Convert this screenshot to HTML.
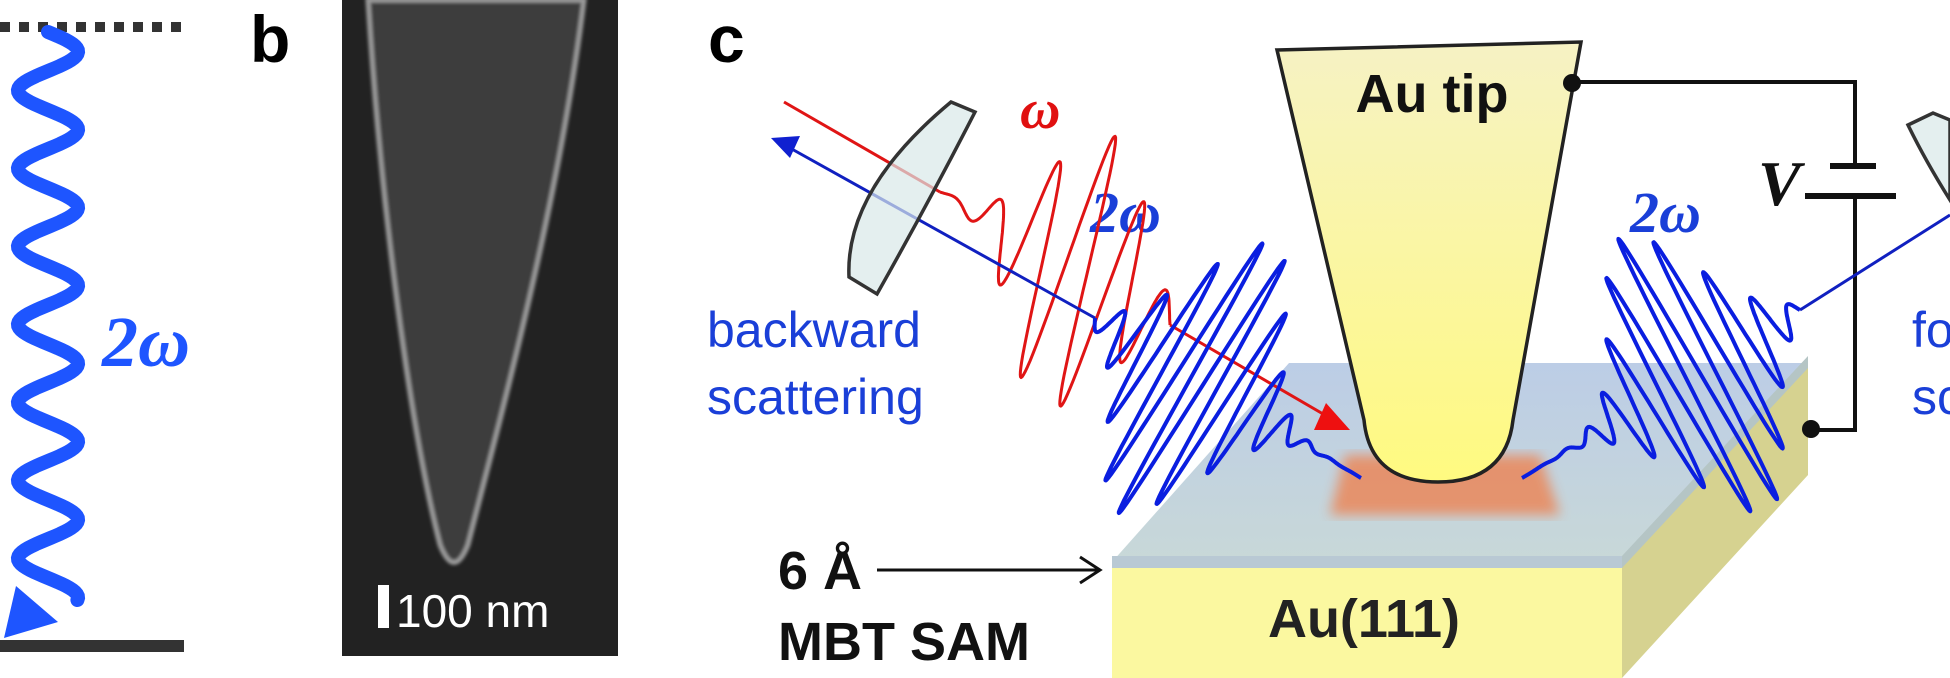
<!DOCTYPE html>
<html><head><meta charset="utf-8"><style>
html,body{margin:0;padding:0;background:#fff;width:1950px;height:678px;overflow:hidden}
svg{display:block}
text{font-family:"Liberation Sans",sans-serif}
text.sf{font-family:"Liberation Serif",serif;font-style:italic;font-weight:bold}
</style></head><body>
<svg id="s" width="1950" height="678" viewBox="0 0 1950 678" xmlns="http://www.w3.org/2000/svg">
<defs>
<linearGradient id="tipg" x1="0" y1="0" x2="0" y2="1"><stop offset="0" stop-color="#f6f2c4"/><stop offset="1" stop-color="#fffa80"/></linearGradient>
<linearGradient id="topg" x1="0" y1="0" x2="0" y2="1"><stop offset="0" stop-color="#bccde6"/><stop offset="1" stop-color="#c8d8d8"/></linearGradient>
<filter id="blur"><feGaussianBlur stdDeviation="6"/></filter>
<filter id="blur2"><feGaussianBlur stdDeviation="1.5"/></filter>
</defs>
<line x1="0" y1="27" x2="184" y2="27" stroke="#333" stroke-width="10" stroke-dasharray="10,9"/>
<rect x="0" y="640" width="184" height="12" fill="#333"/>
<path id="wavya" fill="none" stroke="#1e55ff" stroke-width="14" stroke-linecap="round"/>
<polygon points="4,638 16,586 58,622" fill="#1e55ff"/>
<text class="sf" x="102" y="366" font-size="72" fill="#1e55ff">2ω</text>
<text x="250" y="62" font-weight="bold" font-size="66">b</text>
<rect x="342" y="0" width="276" height="656" fill="#222"/>
<path d="M368,0 C380,200 410,430 440,545 Q454,580 468,545 C500,420 560,200 584,0 Z" fill="#3c3c3c" stroke="#9a9a9a" stroke-width="5" filter="url(#blur2)"/>
<rect x="378" y="585" width="11" height="43" fill="#fff"/>
<text x="396" y="627" font-size="46" fill="#fff">100 nm</text>
<text x="708" y="62" font-weight="bold" font-size="66">c</text>
<polygon points="1622,566 1808,363 1808,475 1622,678" fill="#d6d290"/>
<rect x="1112" y="566" width="510" height="112" fill="#fbf8a0"/>
<polygon points="1289,363 1808,363 1622,562 1112,562" fill="url(#topg)"/>
<polygon points="1112,556 1622,556 1622,568 1112,568" fill="#b9c9d4"/>
<polygon points="1622,556 1808,356 1808,368 1622,568" fill="#b5c5c5"/>
<polygon points="1345,455 1540,455 1560,515 1330,515" fill="#e88c62" filter="url(#blur)" opacity="0.9"/>
<text x="1364" y="637" text-anchor="middle" font-weight="bold" font-size="54" fill="#222">Au(111)</text>
<path d="M1277,50 L1581,42 L1513,420 Q1506,482 1438,482 Q1370,482 1364,420 Z" fill="url(#tipg)" stroke="#222" stroke-width="3.5"/>
<text x="1432" y="112" text-anchor="middle" font-weight="bold" font-size="54" fill="#111">Au tip</text>
<polyline points="1572,82 1855,82 1855,166" fill="none" stroke="#111" stroke-width="4"/>
<line x1="1830" y1="166" x2="1876" y2="166" stroke="#111" stroke-width="6"/>
<line x1="1805" y1="196" x2="1896" y2="196" stroke="#111" stroke-width="6"/>
<polyline points="1855,196 1855,430 1811,430" fill="none" stroke="#111" stroke-width="4"/>
<circle cx="1572" cy="83" r="9" fill="#111"/><circle cx="1811" cy="429" r="9" fill="#111"/>
<text class="sf" x="1758" y="205" font-size="64" fill="#111">V</text>
<text class="sf" x="1090" y="232" font-size="58" fill="#1a3fd8">2ω</text>
<text class="sf" x="1630" y="232" font-size="58" fill="#1a3fd8">2ω</text>
<text class="sf" x="1020" y="128" font-size="56" fill="#e01010">ω</text>
<text x="707" y="347" font-size="50" fill="#1a3fd8">backward</text>
<text x="707" y="414" font-size="50" fill="#1a3fd8">scattering</text>
<text x="1912" y="347" font-size="50" fill="#1a3fd8">fo</text>
<text x="1912" y="414" font-size="50" fill="#1a3fd8">sc</text>
<text x="778" y="589" font-weight="bold" font-size="54" fill="#111">6 Å</text>
<text x="778" y="660" font-weight="bold" font-size="54" fill="#111">MBT SAM</text>
<line x1="877" y1="570" x2="1098" y2="570" stroke="#111" stroke-width="3"/>
<polyline points="1080,557 1100,570 1080,583" fill="none" stroke="#111" stroke-width="3"/>
<g id="beams"></g>
<path d="M951,102 L975,112 Q930,200 877,294 L849,277 Q845,190 951,102 Z" fill="#d8e8e8" fill-opacity="0.7" stroke="#333" stroke-width="3.5"/>
<path d="M1908,125 L1933,113 L1950,120 L1950,200 Q1925,160 1908,125 Z" fill="#d8e8e8" fill-opacity="0.7" stroke="#333" stroke-width="3.5"/>
</svg>
<script>
var NS="http://www.w3.org/2000/svg";
var d="";for(var y=32;y<=600;y+=2){var x=48+30*Math.sin((y-32)/78*2*Math.PI);d+=(y==32?"M":"L")+x.toFixed(1)+","+y;}
document.getElementById("wavya").setAttribute("d",d);
var g=document.getElementById("beams");
function el(t,a){var e=document.createElementNS(NS,t);for(var k in a)e.setAttribute(k,a[k]);g.appendChild(e);return e;}
function packet(x0,y0,x1,y1,dx,dy,amp,cyc,pk,w,col,sw){
 var n=Math.round(cyc*60),p="";var l=Math.hypot(dx,dy);dx/=l;dy/=l;
 for(var i=0;i<=n;i++){var t=i/n;var e=Math.exp(-Math.pow((t-pk)/w,2));var s=Math.sin(2*Math.PI*cyc*t);
  var x=x0+(x1-x0)*t+amp*e*s*dx,y=y0+(y1-y0)*t+amp*e*s*dy;p+=(i?"L":"M")+x.toFixed(1)+","+y.toFixed(1);}
 el("path",{d:p,fill:"none",stroke:col,"stroke-width":sw,"stroke-linejoin":"round"});
}
el("line",{x1:784,y1:102,x2:940,y2:192,stroke:"#e01515","stroke-width":3});
packet(940,192,1170,325,0.28,-0.96,140,5.5,0.6,0.28,"#e01515",3);
el("line",{x1:1170,y1:325,x2:1330,y2:418,stroke:"#e01515","stroke-width":3});
el("polygon",{points:"1350,430 1326,403 1314,430",fill:"#ee1010"});
packet(1361,478,1095,318,0.51,-0.86,155,11,0.62,0.22,"#0a1ee0",4);
el("line",{x1:1095,y1:318,x2:790,y2:148,stroke:"#1020c0","stroke-width":3});
el("polygon",{points:"771,138 800,136 790,158",fill:"#1020d0"});
packet(1522,478,1800,310,0.48,0.88,155,11,0.62,0.22,"#0a1ee0",4);
el("line",{x1:1800,y1:310,x2:1950,y2:215,stroke:"#1020c0","stroke-width":3});
</script>
</body></html>
